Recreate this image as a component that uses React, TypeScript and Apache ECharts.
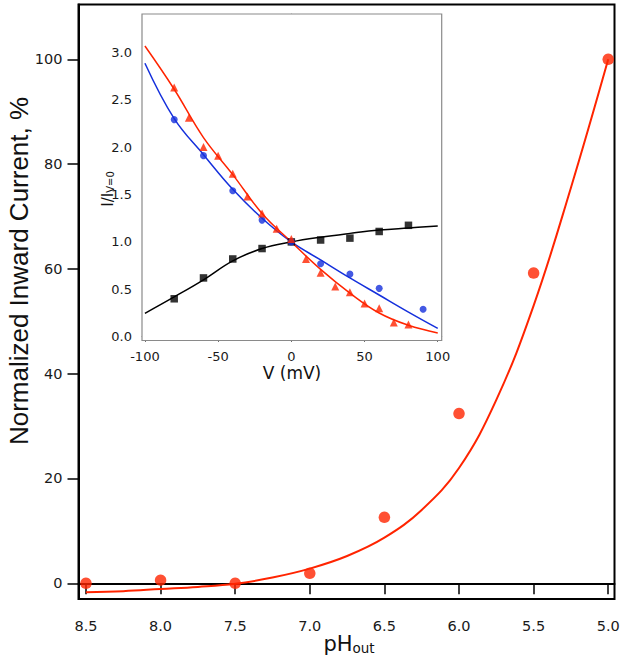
import React, { useEffect, useRef } from "react";
import * as echarts from "echarts";

// Main plot: pH dependence
const phPoints = [8.5, 8.0, 7.5, 7.0, 6.5, 6.0, 5.5, 5.0];
const currentPoints = [0.0, 0.6, 0.0, 1.9, 12.6, 32.4, 59.2, 100.0];
const phFit = [8.5, 8.25, 8.0, 7.75, 7.5, 7.25, 7.0, 6.75, 6.5, 6.25, 6.0, 5.75, 5.5, 5.25, 5.0];
const currentFit = [-1.7, -1.5, -1.1, -0.7, -0.1, 1.1, 2.8, 5.2, 8.7, 14.0, 22.0, 35.0, 53.0, 75.5, 100.0];
const phTicks = [8.5, 8.0, 7.5, 7.0, 6.5, 6.0, 5.5, 5.0];
const currentTicks = [0, 20, 40, 60, 80, 100];

// Inset: I/I(V=0) vs V
const vSquares = [-80, -60, -40, -20, 0, 20, 40, 60, 80];
const iSquares = [0.4, 0.62, 0.82, 0.93, 1.0, 1.02, 1.04, 1.11, 1.175];
const vCircles = [-80, -60, -40, -20, 0, 20, 40, 60, 90];
const iCircles = [2.29, 1.91, 1.54, 1.23, 1.0, 0.77, 0.66, 0.51, 0.29];
const vTriangles = [-80, -70, -60, -50, -40, -30, -20, -10, 0, 10, 20, 30, 40, 50, 60, 70, 80];
const iTriangles = [2.63, 2.31, 2.0, 1.91, 1.72, 1.48, 1.3, 1.14, 1.03, 0.82, 0.675, 0.53, 0.47, 0.35, 0.3, 0.15, 0.13];
const vFit = [-100, -80, -60, -40, -20, 0, 20, 40, 60, 80, 100];
const blackFit = [0.247, 0.42, 0.6, 0.8, 0.93, 1.0, 1.05, 1.09, 1.125, 1.147, 1.168];
const blueFit = [2.884, 2.3, 1.92, 1.555, 1.25, 1.0, 0.81, 0.62, 0.44, 0.26, 0.088];
const redFit = [3.066, 2.61, 2.1, 1.71, 1.3, 1.0, 0.71, 0.46, 0.25, 0.12, 0.04];
const vTicks = [-100, -50, 0, 50, 100];
const iTicks = [0, 0.5, 1.0, 1.5, 2.0, 2.5, 3.0];

const RED = "#ff2400";
const BLUE = "#1530dc";
const BLACK = "#000000";
const TICKFONT = "DejaVu Sans";

const zip = (xs: number[], ys: number[]) => xs.map((x, i) => [x, ys[i]]);

export default function App() {
  const ref = useRef<HTMLDivElement>(null);
  useEffect(() => {
    if (!ref.current) return;
    const chart = echarts.init(ref.current, undefined, { renderer: "svg" });
    const option: any = {
      animation: false,
      backgroundColor: "#ffffff",
      grid: [
        {
          left: 78.5, top: 4.5, right: 624 - 614.5, bottom: 658 - 599,
          show: true, borderColor: "#000", borderWidth: 2, backgroundColor: "transparent",
        },
        {
          left: 142, top: 14, right: 624 - 441.7, bottom: 658 - 340.5,
          show: true, borderColor: "#8a8a8a", borderWidth: 1.2, backgroundColor: "#ffffff", z: 5,
        },
      ],
      xAxis: [
        {
          gridIndex: 0, type: "value", inverse: true, min: 4.958, max: 8.55,
          axisLine: { show: true, lineStyle: { color: "#000", width: 2 } },
          axisTick: { show: true, customValues: phTicks, length: 11, lineStyle: { color: "#000", width: 1.5 } },
          axisLabel: {
            customValues: phTicks, formatter: (v: number) => v.toFixed(1),
            fontFamily: TICKFONT, fontSize: 14.5, color: "#1a1a1a", margin: 19,
          },
          splitLine: { show: false },
        },
        {
          gridIndex: 1, type: "value", min: -102, max: 102.7,
          axisLine: { show: true, lineStyle: { color: "#8a8a8a", width: 1.2 } },
          axisTick: { show: true, customValues: vTicks, length: 5, lineStyle: { color: "#333", width: 1 } },
          axisLabel: {
            customValues: vTicks, formatter: (v: number) => String(v),
            fontFamily: TICKFONT, fontSize: 13, color: "#1a1a1a", margin: 9,
          },
          splitLine: { show: false },
        },
      ],
      yAxis: [
        {
          gridIndex: 0, type: "value", min: -3, max: 110.46,
          axisLine: { show: true, lineStyle: { color: "#000", width: 2 } },
          axisTick: { show: true, customValues: currentTicks, length: 11, lineStyle: { color: "#000", width: 1.5 } },
          axisLabel: {
            customValues: currentTicks, formatter: (v: number) => String(v),
            fontFamily: TICKFONT, fontSize: 14.5, color: "#1a1a1a", margin: 16,
          },
          splitLine: { show: false },
        },
        {
          gridIndex: 1, type: "value", min: -0.04, max: 3.404,
          axisLine: { show: true, lineStyle: { color: "#8a8a8a", width: 1.2 } },
          axisTick: { show: true, customValues: iTicks, length: 5, lineStyle: { color: "#333", width: 1 } },
          axisLabel: {
            customValues: iTicks, formatter: (v: number) => v.toFixed(1),
            fontFamily: TICKFONT, fontSize: 13, color: "#1a1a1a", margin: 10,
          },
          splitLine: { show: false },
        },
      ],
      series: [
        {
          type: "line", xAxisIndex: 0, yAxisIndex: 0, data: zip(phFit, currentFit),
          smooth: 0.4, showSymbol: false, lineStyle: { color: RED, width: 2 }, z: 2,
        },
        {
          type: "scatter", xAxisIndex: 0, yAxisIndex: 0, data: zip(phPoints, currentPoints),
          symbol: "circle", symbolSize: 11.5, itemStyle: { color: RED }, z: 3,
        },
        {
          type: "line", xAxisIndex: 1, yAxisIndex: 1, data: zip(vFit, blackFit),
          smooth: 0.4, showSymbol: false, lineStyle: { color: BLACK, width: 1.5 }, z: 10,
        },
        {
          type: "line", xAxisIndex: 1, yAxisIndex: 1, data: zip(vFit, blueFit),
          smooth: 0.4, showSymbol: false, lineStyle: { color: BLUE, width: 1.5 }, z: 10,
        },
        {
          type: "line", xAxisIndex: 1, yAxisIndex: 1, data: zip(vFit, redFit),
          smooth: 0.4, showSymbol: false, lineStyle: { color: RED, width: 1.5 }, z: 10,
        },
        {
          type: "scatter", xAxisIndex: 1, yAxisIndex: 1, data: zip(vSquares, iSquares),
          symbol: "rect", symbolSize: 7.5, itemStyle: { color: BLACK }, z: 11,
        },
        {
          type: "scatter", xAxisIndex: 1, yAxisIndex: 1, data: zip(vCircles, iCircles),
          symbol: "circle", symbolSize: 7, itemStyle: { color: BLUE }, z: 11,
        },
        {
          type: "scatter", xAxisIndex: 1, yAxisIndex: 1, data: zip(vTriangles, iTriangles),
          symbol: "triangle", symbolSize: 8, itemStyle: { color: RED }, z: 11,
        },
      ],
      graphic: [
        {
          type: "text", x: 19, y: 271, rotation: Math.PI / 2, z: 20,
          style: {
            text: "Normalized Inward Current, %", font: '26px "Liberation Sans"',
            fill: "#111", textAlign: "center", textVerticalAlign: "middle",
          },
        },
        {
          type: "text", x: 349, y: 641, z: 20,
          style: {
            text: "{a|pH}{b|out}", textAlign: "center", textVerticalAlign: "middle",
            rich: {
              a: { fontFamily: TICKFONT, fontSize: 21, lineHeight: 27, verticalAlign: "bottom", fill: "#111" },
              b: { fontFamily: TICKFONT, fontSize: 13.5, lineHeight: 12, verticalAlign: "bottom", fill: "#111" },
            },
          },
        },
        {
          type: "text", x: 292, y: 373, z: 20,
          style: {
            text: "V (mV)", font: '17px "DejaVu Sans"', fill: "#111",
            textAlign: "center", textVerticalAlign: "middle",
          },
        },
        {
          type: "text", x: 105, y: 189, rotation: Math.PI / 2, z: 20,
          style: {
            text: "{a|I/I}{b|V=0}", textAlign: "center", textVerticalAlign: "middle",
            rich: {
              a: { fontFamily: TICKFONT, fontSize: 15, lineHeight: 20, verticalAlign: "bottom", fill: "#111" },
              b: { fontFamily: TICKFONT, fontSize: 10, lineHeight: 9, verticalAlign: "bottom", fill: "#111" },
            },
          },
        },
      ],
    };
    chart.setOption(option);
    return () => chart.dispose();
  }, []);
  return (
    <div
      ref={ref}
      style={{ position: "fixed", left: 0, top: 0, width: 624, height: 658, background: "#fff" }}
    />
  );
}
